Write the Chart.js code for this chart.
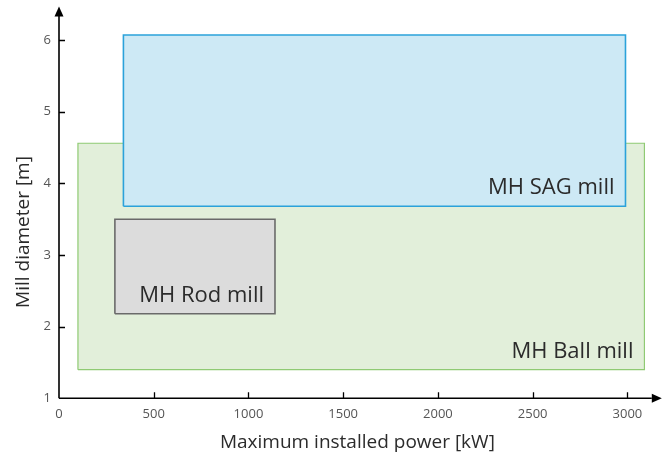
<!DOCTYPE html>
<html>
<head>
<meta charset="utf-8">
<script src="https://cdn.jsdelivr.net/npm/chart.js@4.4.1/dist/chart.umd.min.js"></script>
<style>
html,body{margin:0;padding:0;background:#fff;}
#wrap{width:670px;height:454px;position:relative;}
</style>
</head>
<body>
<div id="wrap"><canvas id="c" width="670" height="454"></canvas></div>
<script>
const categories = ['MH Ball mill', 'MH SAG mill', 'MH Rod mill'];
const powerMin = [100, 340, 295];
const powerMax = [3090, 2990, 1140];
const diameterMin = [1.4, 3.68, 2.18];
const diameterMax = [4.56, 6.07, 3.5];
const xTickLabels = [0, 500, 1000, 1500, 2000, 2500, 3000];
const yTickLabels = [1, 2, 3, 4, 5, 6];

const fillColors = ['#e2efda', '#cde9f5', '#dcdcdc'];
const borderColors = ['#8fca73', '#2ba2da', '#6a6a6a'];
const borderWidths = [1.2, 1.6, 1.6];
const FONT = '"Open Sans", "DejaVu Sans", sans-serif';

const datasets = categories.map((name, i) => ({
  label: name,
  data: [
    {x: powerMin[i], y: diameterMin[i]},
    {x: powerMax[i], y: diameterMin[i]},
    {x: powerMax[i], y: diameterMax[i]},
    {x: powerMin[i], y: diameterMax[i]},
    {x: powerMin[i], y: diameterMin[i]}
  ],
  showLine: true,
  fill: 'shape',
  backgroundColor: fillColors[i],
  borderColor: borderColors[i],
  borderWidth: borderWidths[i],
  borderJoinStyle: 'miter',
  pointRadius: 0,
  pointHoverRadius: 0,
  tension: 0,
  order: 3 - i
}));

const decorPlugin = {
  id: 'decor',
  afterDatasetsDraw(chart) {
    const ctx = chart.ctx;
    const xs = chart.scales.x, ys = chart.scales.y;
    const area = chart.chartArea;
    ctx.save();
    // labels inside boxes
    ctx.font = '22px ' + FONT;
    ctx.fillStyle = '#2b2b2b';
    ctx.textAlign = 'right';
    ctx.textBaseline = 'alphabetic';
    categories.forEach((name, i) => {
      const px = xs.getPixelForValue(powerMax[i]) - 11;
      const py = ys.getPixelForValue(diameterMin[i]) - 12;
      ctx.fillText(name, px, py);
    });
    // axes
    const x0 = xs.getPixelForValue(0);
    const y0 = ys.getPixelForValue(1);
    ctx.strokeStyle = '#000';
    ctx.fillStyle = '#000';
    ctx.lineWidth = 1.6;
    ctx.beginPath();
    ctx.moveTo(x0, y0);
    ctx.lineTo(area.right - 4, y0);
    ctx.moveTo(x0, y0);
    ctx.lineTo(x0, area.top + 4);
    ctx.stroke();
    // arrows
    ctx.beginPath();
    ctx.moveTo(area.right + 6, y0);
    ctx.lineTo(area.right - 4, y0 - 4.5);
    ctx.lineTo(area.right - 4, y0 + 4.5);
    ctx.closePath();
    ctx.fill();
    ctx.beginPath();
    ctx.moveTo(x0, area.top - 5);
    ctx.lineTo(x0 - 4.5, area.top + 5);
    ctx.lineTo(x0 + 4.5, area.top + 5);
    ctx.closePath();
    ctx.fill();
    // inward ticks
    ctx.lineWidth = 1.3;
    ctx.beginPath();
    xTickLabels.forEach(v => {
      if (v === 0) return;
      const px = Math.round(xs.getPixelForValue(v)) + 0.5;
      ctx.moveTo(px, y0);
      ctx.lineTo(px, y0 - 6);
    });
    yTickLabels.forEach(v => {
      if (v === 1) return;
      const py = Math.round(ys.getPixelForValue(v)) + 0.5;
      ctx.moveTo(x0, py);
      ctx.lineTo(x0 + 6, py);
    });
    ctx.stroke();
    // y title
    ctx.translate(24, 232);
    ctx.rotate(-Math.PI / 2);
    ctx.font = '19px ' + FONT;
    ctx.fillStyle = '#2b2b2b';
    ctx.textAlign = 'center';
    ctx.textBaseline = 'middle';
    ctx.fillText('Mill diameter [m]', 0, 0);
    ctx.restore();
  }
};

function zeroPad(s) { s.paddingTop = 0; s.paddingBottom = 0; s.paddingLeft = 0; s.paddingRight = 0; }

new Chart(document.getElementById('c'), {
  type: 'scatter',
  data: { datasets },
  options: {
    responsive: false,
    animation: false,
    devicePixelRatio: 1,
    layout: { padding: { top: 11.4, right: 14.2, left: 0, bottom: 0 } },
    plugins: { legend: { display: false }, tooltip: { enabled: false } },
    scales: {
      x: {
        type: 'linear',
        min: 0,
        max: 3150,
        afterBuildTicks: s => { s.ticks = xTickLabels.map(v => ({ value: v })); },
        afterFit: s => { s.height = 55.7; zeroPad(s); },
        grid: { display: false, drawTicks: false },
        border: { display: false },
        ticks: { padding: 8, color: '#555', font: { family: FONT, size: 13 }, maxRotation: 0, autoSkip: false, callback: v => String(v) },
        title: { display: true, text: 'Maximum installed power [kW]', color: '#2b2b2b', font: { family: FONT, size: 19 }, padding: { top: 2, bottom: 0 } }
      },
      y: {
        type: 'linear',
        min: 1,
        max: 6.4,
        afterBuildTicks: s => { s.ticks = yTickLabels.map(v => ({ value: v })); },
        afterFit: s => { s.width = 59; zeroPad(s); },
        grid: { display: false, drawTicks: false },
        border: { display: false },
        ticks: { padding: 8, color: '#555', font: { family: FONT, size: 13 }, autoSkip: false, callback: v => String(v) }
      }
    }
  },
  plugins: [decorPlugin]
});
</script>
</body>
</html>
